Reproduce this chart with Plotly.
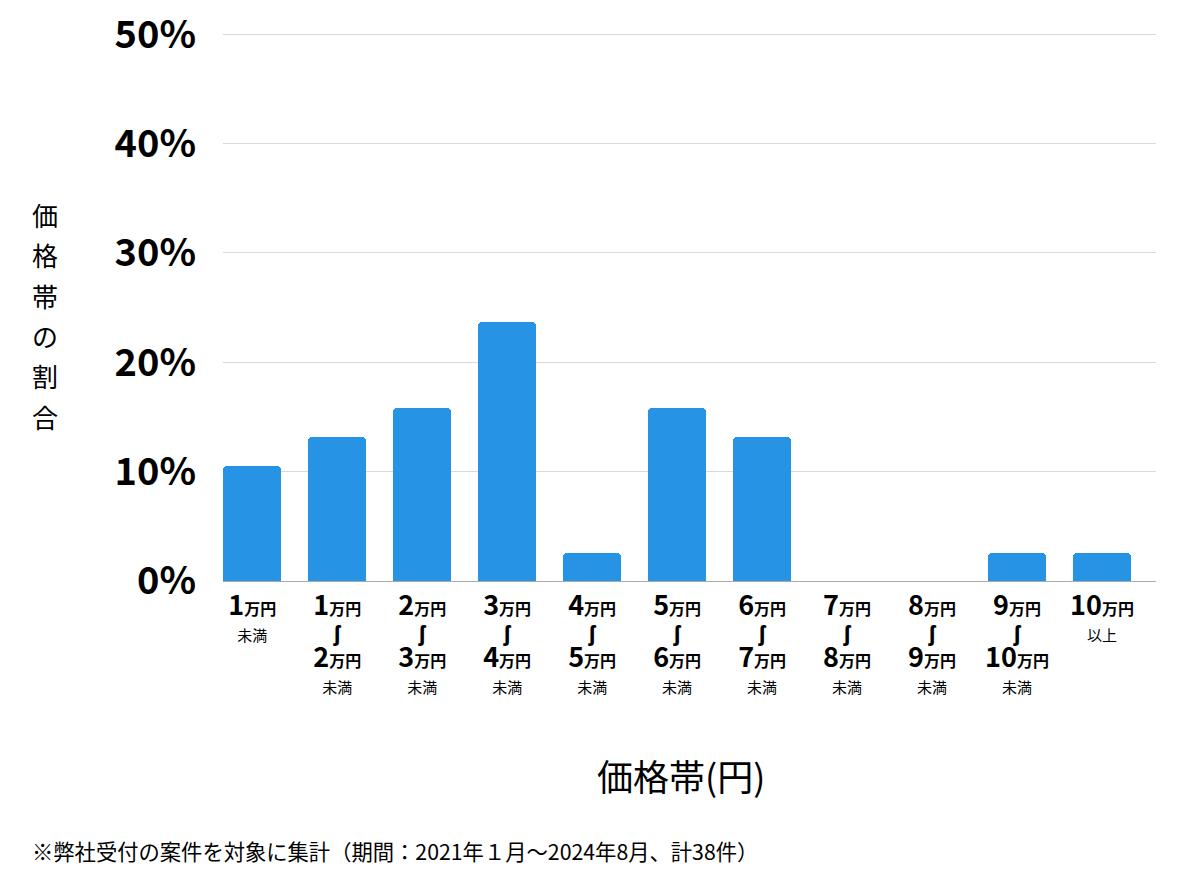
import plotly.graph_objects as go

# price bands (万円) and share of cases, 38 cases total
lower = [None, 1, 2, 3, 4, 5, 6, 7, 8, 9, 10]
upper = [1, 2, 3, 4, 5, 6, 7, 8, 9, 10, None]
share = [0.105, 0.132, 0.158, 0.237, 0.026, 0.158, 0.132, 0.0, 0.0, 0.026, 0.026]
y_ticks = [0, 0.1, 0.2, 0.3, 0.4, 0.5]

FONT = "Noto Sans CJK JP"
BAR = "#2693E4"


def yen(n):
    return (f"<span style='font-size:27px'>{n}</span>"
            f"<span style='font-size:16px'>万円</span>")


def small(t):
    return f"<span style='font-size:15px;font-weight:normal'>{t}</span>"


WAVE = "<span style='font-size:22px;font-family:Noto Sans;font-weight:bold'>ʃ</span>"

ticktext = []
for lo, hi in zip(lower, upper):
    if lo is None:
        ticktext.append(yen(hi) + "<br>" + small("未満"))
    elif hi is None:
        ticktext.append(yen(lo) + "<br>" + small("以上"))
    else:
        ticktext.append(yen(lo) + "<br>" + WAVE + "<br>" + yen(hi) + "<br>" + small("未満"))

x = list(range(len(share)))

fig = go.Figure()
fig.add_trace(go.Bar(x=x, y=share, width=0.687,
                     marker=dict(color=BAR, cornerradius=4, line=dict(width=0))))

# page body adds an 8px offset, margins account for it
fig.update_layout(
    width=1200, height=874,
    margin=dict(l=215, r=52, t=24, b=301),
    plot_bgcolor="white", paper_bgcolor="white",
    font=dict(family=FONT, color="#000"),
    showlegend=False,
    bargap=0,
)
fig.update_xaxes(
    range=[-0.3435, 10.635], automargin=False,
    tickmode="array", tickvals=x, ticktext=ticktext,
    tickfont=dict(size=20, family=FONT, weight="bold"),
    showline=True, linecolor="#aaaaaa", linewidth=1,
    showgrid=False, ticks="", ticklabelstandoff=9,
)
fig.update_yaxes(
    range=[0, 0.502], automargin=False,
    tickvals=y_ticks, tickformat=".0%",
    tickfont=dict(size=38, family=FONT, weight="bold"),
    showgrid=True, gridcolor="#d9d9d9", gridwidth=1,
    zeroline=False, ticklabelstandoff=26, ticklabeloverflow="allow",
)

fig.add_annotation(
    text="価格帯(円)", xref="paper", yref="paper", x=0.491, y=-0.3534,
    xanchor="center", yanchor="middle", showarrow=False,
    font=dict(size=36, family=FONT, color="#000"),
)

ychars = "価格帯の割合"
fig.add_annotation(
    text="<br>".join(f"<span style='font-size:26px'>{c}</span>" for c in ychars),
    xref="paper", yref="paper", x=-0.191, y=0.4827, xanchor="center", yanchor="middle",
    showarrow=False, font=dict(size=31, family=FONT, color="#000"),
)
fig.add_annotation(
    text="※弊社受付の案件を対象に集計（期間：2021年１月〜2024年8月、計38件）",
    xref="paper", yref="paper", x=-0.2069, y=-0.4918, xanchor="left", yanchor="middle",
    showarrow=False, font=dict(size=21.3, family=FONT, color="#000"),
)

fig.write_html("out.html")
